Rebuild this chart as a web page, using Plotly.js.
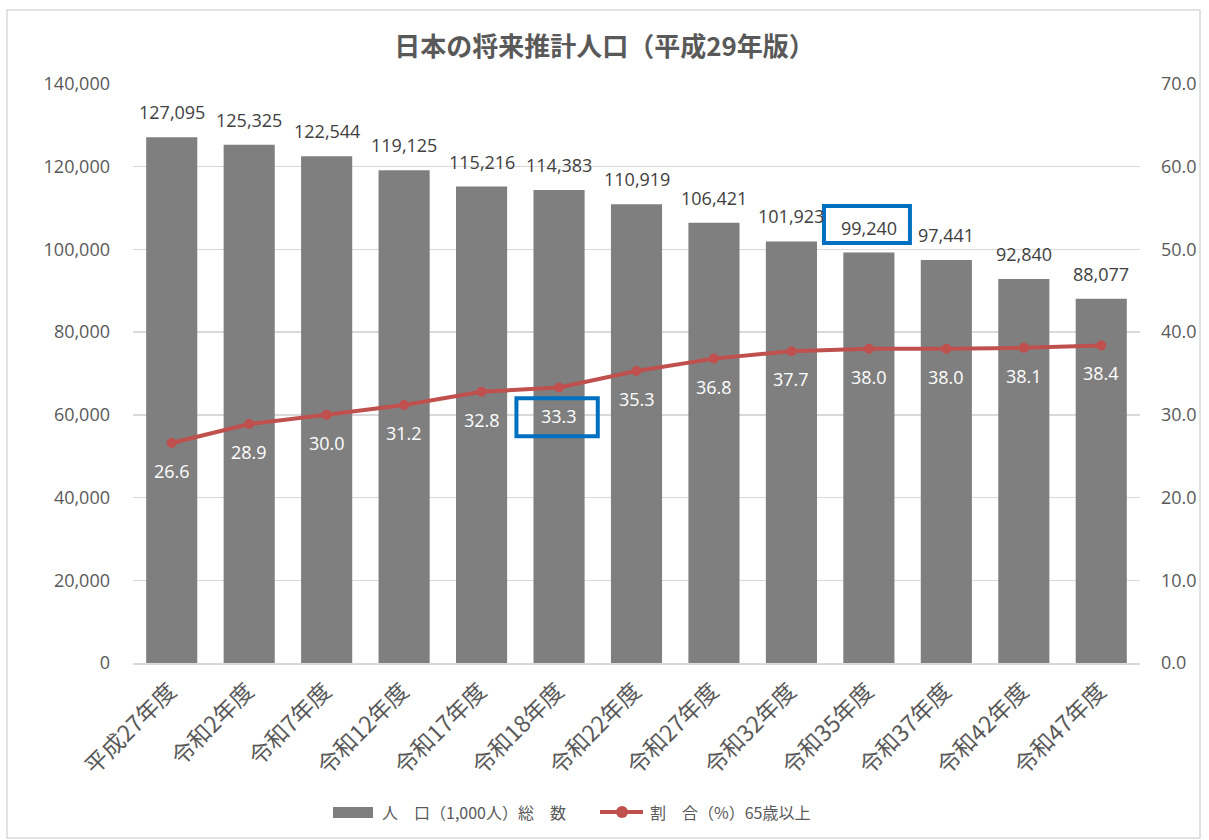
<!DOCTYPE html>
<html>
<head>
<meta charset="utf-8">
<script src="https://cdn.plot.ly/plotly-3.0.1.min.js"></script>
<style>html,body{margin:0;padding:0;background:#fff}#chart{width:1209px;height:840px}</style>
</head>
<body>
<div id="chart"></div>
<script>
const categories = ["平成27年度","令和2年度","令和7年度","令和12年度","令和17年度","令和18年度","令和22年度","令和27年度","令和32年度","令和35年度","令和37年度","令和42年度","令和47年度"];
const population = [127095,125325,122544,119125,115216,114383,110919,106421,101923,99240,97441,92840,88077];
const ratio65 = [26.6,28.9,30.0,31.2,32.8,33.3,35.3,36.8,37.7,38.0,38.0,38.1,38.4];
const popName = "人　口（1,000人）総　数";
const ratioName = "割　合（%）65歳以上";
const titleText = "日本の将来推計人口（平成29年版）";

const NUM = "'Open Sans', 'Noto Sans CJK JP', sans-serif";
const JP = "'Noto Sans CJK JP', sans-serif";
const GREY = "#595959";
const RED = "#c0504d";
const BAR = "#7f7f7f";

const traces = [
  {
    type: "bar", x: categories, y: population, name: popName,
    marker: {color: BAR}, hoverinfo: "x+y"
  },
  {
    type: "scatter", mode: "lines+markers", x: categories, y: ratio65, yaxis: "y2",
    name: ratioName,
    line: {color: RED, width: 4},
    marker: {color: RED, size: 10}
  }
];

// data labels built from the data arrays
const barLabels = categories.map((c, i) => ({
  xref: "x", yref: "y", x: c, y: population[i], yshift: 25, yanchor: "middle",
  text: population[i].toLocaleString("en-US"), showarrow: false,
  font: {family: NUM, size: 18, color: "#404040"}
}));
const lineLabels = categories.map((c, i) => ({
  xref: "x", yref: "y2", x: c, y: ratio65[i], yshift: -28, yanchor: "middle",
  text: ratio65[i].toFixed(1), showarrow: false,
  font: {family: NUM, size: 18, color: "#ffffff"}
}));

// custom legend (decoration)
const px = v => (v - 133) / 1007;
const py = v => (663 - v) / 579;
const legendAnn = [
  {xref: "paper", yref: "paper", x: px(380), y: py(812), xanchor: "left", yanchor: "middle",
   text: popName, showarrow: false, font: {family: JP, size: 16, color: GREY}},
  {xref: "paper", yref: "paper", x: px(648), y: py(812), xanchor: "left", yanchor: "middle",
   text: ratioName, showarrow: false, font: {family: JP, size: 16, color: GREY}}
];

const layout = {
  width: 1209, height: 840,
  margin: {l: 133, r: 69, t: 84, b: 177},
  paper_bgcolor: "#fff", plot_bgcolor: "#fff",
  font: {family: JP, color: GREY, size: 15},
  title: {text: "<b>" + titleText + "</b>", x: 0.5, xanchor: "center", y: 0.944, yanchor: "middle",
          font: {size: 26, color: GREY, family: JP}, automargin: false},
  bargap: 0.34,
  showlegend: false,
  xaxis: {type: "category", range: [-0.5, categories.length - 0.5], tickangle: -45,
          tickfont: {size: 23, color: GREY, family: JP},
          ticklabelshift: -2, ticklabelstandoff: 4,
          showline: true, linecolor: "#d9d9d9", linewidth: 1.5, ticks: "", showgrid: false,
          automargin: false, fixedrange: true},
  yaxis: {range: [0, 140000], dtick: 20000, tickformat: ",", gridcolor: "#d9d9d9", gridwidth: 1.5,
          zeroline: false, ticks: "", tickfont: {size: 18, color: GREY, family: NUM},
          ticklabelstandoff: 22, automargin: false},
  yaxis2: {range: [0, 70], dtick: 10, tickformat: ".1f", overlaying: "y", side: "right",
           showgrid: false, zeroline: false, ticks: "", tickfont: {size: 18, color: GREY, family: NUM},
           ticklabelstandoff: 20, automargin: false},
  annotations: barLabels.concat(lineLabels, legendAnn),
  shapes: [
    {type: "rect", xref: "paper", yref: "paper", x0: px(7), x1: px(1200), y0: py(838), y1: py(10),
     line: {color: "#d9d9d9", width: 1.5}, layer: "below"},
    // legend markers
    {type: "rect", xref: "paper", yref: "paper", x0: px(333), x1: px(373), y0: py(818), y1: py(807),
     fillcolor: BAR, line: {width: 0}},
    {type: "line", xref: "paper", yref: "paper", x0: px(600), x1: px(643), y0: py(812), y1: py(812),
     line: {color: RED, width: 4}},
    {type: "circle", xref: "paper", yref: "paper", x0: px(616), x1: px(628), y0: py(818), y1: py(806),
     fillcolor: RED, line: {color: RED, width: 0}},
    // highlight boxes
    {type: "rect", xref: "x", yref: "y2", x0: 4.45, x1: 5.5, y0: 27.4, y1: 32.0,
     line: {color: "#0070c0", width: 4}},
    {type: "rect", xref: "x", yref: "y", x0: 8.42, x1: 9.53, y0: 101550, y1: 110500,
     line: {color: "#0070c0", width: 4}}
  ]
};

Plotly.newPlot("chart", traces, layout, {displayModeBar: false, staticPlot: true});
</script>
</body>
</html>
